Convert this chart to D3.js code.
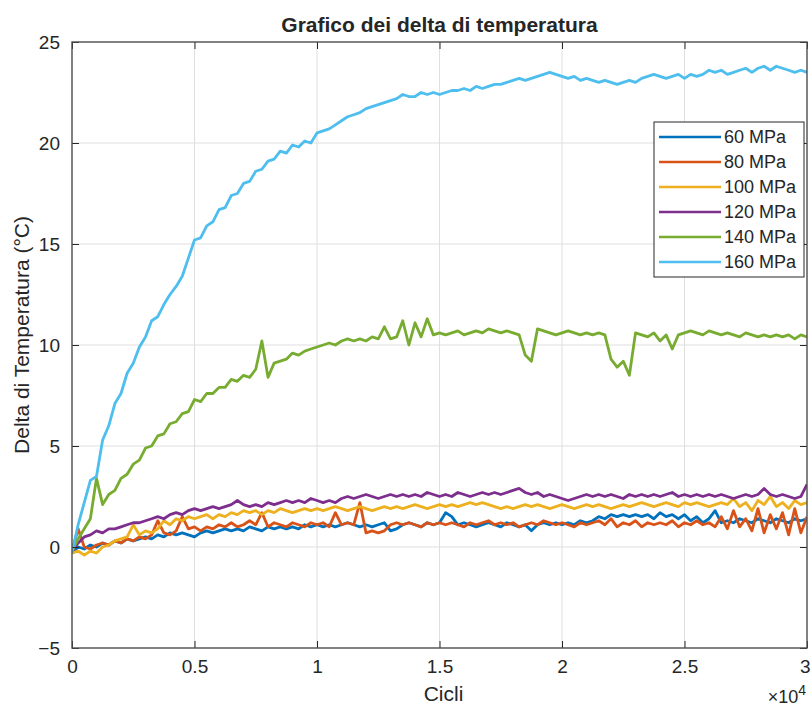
<!DOCTYPE html>
<html>
<head>
<meta charset="utf-8">
<script src="https://cdn.jsdelivr.net/npm/d3@7"></script>
<style>
  body { margin: 0; background: #fff; }
  text { font-family: "Liberation Sans", Arial, sans-serif; fill: #262626; }
</style>
</head>
<body>
<div id="chart"></div>
<script>
var margin = {top: 42, right: 4, bottom: 60, left: 72},
    W = 811, H = 708,
    width = W - margin.left - margin.right,
    height = H - margin.top - margin.bottom;

/* cycle counts, one reading every 250 cycles */
var cicli = d3.range(0, 30001, 250);

var serie = ["60 MPa", "80 MPa", "100 MPa", "120 MPa", "140 MPa", "160 MPa"];
var colori = ["#0072BD", "#D95319", "#EDB120", "#7E2F8E", "#77AC30", "#4DBEEE"];

var xTicks = [0, 5000, 10000, 15000, 20000, 25000, 30000];
var yTicks = [-5, 0, 5, 10, 15, 20, 25];

// delta T (°C) for each load level
var dt60 = [-0.3,0.0,-0.1,0.1,0.0,0.2,0.1,0.3,0.2,0.4,0.3,0.4,0.5,0.4,0.6,0.5,0.7,0.6,0.7,0.6,
  0.5,0.7,0.8,0.7,0.8,0.9,0.8,0.9,0.8,1.0,0.9,0.8,1.0,0.9,1.0,0.9,1.0,0.9,1.1,1.0,
  1.1,1.0,1.1,1.0,1.1,1.2,1.1,1.0,1.1,1.0,1.1,1.2,0.8,0.9,1.1,1.2,1.1,1.0,1.2,1.1,
  1.2,1.7,1.5,1.1,1.2,1.1,1.0,1.1,1.2,1.1,1.0,1.2,1.1,1.0,1.1,0.8,1.1,1.2,1.1,1.2,
  1.1,1.2,1.1,1.3,1.2,1.3,1.5,1.4,1.6,1.5,1.6,1.5,1.6,1.5,1.6,1.4,1.7,1.5,1.6,1.4,
  1.6,1.3,1.5,1.2,1.4,1.8,1.2,1.3,1.2,1.4,1.3,1.2,1.4,1.3,1.2,1.4,1.3,1.2,1.4,1.3,1.4];

var dt80 = [-0.2,0.9,0.0,-0.1,0.1,0.2,0.1,0.3,0.2,0.4,0.3,0.5,0.4,0.6,1.3,0.7,0.6,0.8,1.5,0.9,
  1.0,0.8,1.0,0.9,1.1,1.0,1.2,1.0,1.1,1.3,1.1,1.7,1.0,1.2,1.1,1.0,1.2,1.1,1.0,1.2,
  1.1,1.2,1.0,1.7,1.1,1.2,1.1,2.2,0.7,0.8,0.7,0.8,1.1,1.2,1.1,1.2,1.1,1.0,1.2,1.1,
  1.2,1.1,1.2,1.1,1.0,1.2,1.1,1.2,1.3,1.1,1.2,1.1,1.2,1.0,1.1,1.2,1.1,1.3,1.2,1.1,
  1.2,1.1,1.0,1.2,1.1,1.2,1.3,1.1,1.4,1.0,1.2,1.1,1.3,1.0,1.2,1.1,1.2,1.1,1.3,1.0,
  1.2,1.1,1.3,1.1,1.2,1.0,1.5,0.9,1.8,1.0,1.4,0.8,1.9,0.7,1.6,0.9,1.7,0.6,1.9,0.7,1.5];

var dt100 = [-0.3,-0.2,-0.4,-0.2,-0.3,0.0,0.1,0.3,0.4,0.5,1.1,0.6,0.8,0.7,0.9,1.3,1.1,1.4,1.3,1.5,
  1.4,1.5,1.6,1.4,1.6,1.5,1.7,1.6,1.8,1.7,1.8,1.6,1.8,1.7,1.9,1.8,1.7,1.8,1.9,1.8,
  1.9,1.8,1.9,2.0,1.9,1.8,1.9,2.0,1.9,1.8,1.9,2.0,1.9,2.0,1.9,2.0,2.1,2.0,1.9,2.0,
  2.1,2.0,2.1,2.0,2.1,2.2,2.1,2.2,2.1,2.0,1.9,2.0,1.9,2.0,2.1,2.0,2.1,2.0,1.9,2.0,
  2.1,2.0,1.9,2.0,2.1,2.0,2.1,2.0,1.9,2.0,2.1,2.0,2.1,2.2,2.1,2.0,2.1,2.2,2.1,2.0,
  2.2,2.1,2.2,2.1,2.0,2.1,2.2,2.1,2.4,2.0,2.2,1.8,2.3,2.1,2.5,2.0,2.2,1.9,2.3,2.1,2.2];

var dt120 = [-0.2,0.2,0.5,0.6,0.8,0.7,0.9,0.9,1.0,1.1,1.2,1.2,1.3,1.4,1.5,1.4,1.6,1.7,1.6,1.8,
  1.9,1.8,1.9,2.0,1.9,2.0,2.1,2.3,2.1,2.0,2.1,2.0,2.2,2.1,2.2,2.3,2.2,2.3,2.2,2.4,
  2.3,2.2,2.3,2.2,2.4,2.5,2.4,2.5,2.6,2.5,2.4,2.5,2.6,2.5,2.6,2.5,2.6,2.5,2.7,2.6,
  2.5,2.6,2.5,2.7,2.6,2.5,2.6,2.7,2.6,2.7,2.6,2.7,2.8,2.9,2.7,2.6,2.7,2.5,2.6,2.5,
  2.4,2.3,2.4,2.5,2.6,2.5,2.6,2.5,2.6,2.5,2.4,2.6,2.5,2.6,2.5,2.6,2.5,2.6,2.7,2.5,
  2.6,2.5,2.6,2.5,2.6,2.5,2.6,2.5,2.4,2.5,2.6,2.5,2.6,2.9,2.6,2.5,2.6,2.5,2.4,2.5,3.1];

var dt140 = [-0.2,0.4,0.9,1.4,3.4,2.1,2.6,2.8,3.4,3.6,4.1,4.3,4.9,5.0,5.5,5.6,6.1,6.2,6.6,6.7,
  7.3,7.2,7.6,7.6,7.9,7.9,8.3,8.2,8.5,8.4,8.8,10.2,8.4,9.1,9.2,9.3,9.6,9.5,9.7,9.8,
  9.9,10.0,10.1,10.0,10.2,10.3,10.2,10.3,10.2,10.4,10.3,10.9,10.3,10.4,11.2,10.0,11.1,10.4,11.3,10.5,
  10.6,10.5,10.6,10.7,10.5,10.6,10.7,10.6,10.8,10.7,10.6,10.7,10.6,10.5,9.5,9.2,10.8,10.7,10.6,10.5,
  10.6,10.7,10.6,10.5,10.6,10.5,10.6,10.5,9.3,8.9,9.2,8.5,10.6,10.5,10.4,10.6,10.2,10.5,9.8,10.5,
  10.6,10.7,10.6,10.5,10.7,10.6,10.5,10.6,10.5,10.4,10.6,10.5,10.4,10.5,10.4,10.5,10.4,10.5,10.3,10.5,10.4];

var dt160 = [-0.3,1.1,2.2,3.3,3.5,5.3,6.0,7.1,7.6,8.6,9.1,9.9,10.4,11.2,11.4,12.0,12.5,12.9,13.4,14.3,
  15.2,15.3,15.9,16.1,16.7,16.8,17.4,17.5,18.0,18.1,18.6,18.7,19.1,19.2,19.6,19.5,19.9,19.8,20.1,20.0,
  20.5,20.6,20.7,20.9,21.1,21.3,21.4,21.5,21.7,21.8,21.9,22.0,22.1,22.2,22.4,22.3,22.3,22.5,22.4,22.5,
  22.4,22.5,22.6,22.6,22.7,22.6,22.8,22.7,22.8,22.9,22.9,23.0,23.1,23.2,23.1,23.2,23.3,23.4,23.5,23.4,
  23.3,23.2,23.3,23.1,23.2,23.1,23.0,23.1,23.0,22.9,23.0,23.1,23.0,23.2,23.3,23.4,23.3,23.2,23.3,23.4,
  23.2,23.4,23.3,23.4,23.6,23.5,23.6,23.4,23.5,23.6,23.7,23.5,23.7,23.8,23.6,23.8,23.7,23.6,23.5,23.6,23.5];

var valori = [dt60, dt80, dt100, dt120, dt140, dt160];

var svg = d3.select("#chart").append("svg").attr("width", W).attr("height", H);

var x = d3.scaleLinear().domain([0, 30000]).range([0, width]);
var y = d3.scaleLinear().domain([-5, 25]).range([height, 0]);

var g = svg.append("g").attr("transform", "translate(" + margin.left + "," + margin.top + ")");

/* grid */
g.append("g").selectAll("line").data(xTicks.slice(1, -1)).enter().append("line")
    .attr("x1", x).attr("x2", x).attr("y1", 0).attr("y2", height)
    .attr("stroke", "#dfdfdf").attr("stroke-width", 1);
g.append("g").selectAll("line").data(yTicks.slice(1, -1)).enter().append("line")
    .attr("y1", y).attr("y2", y).attr("x1", 0).attr("x2", width)
    .attr("stroke", "#dfdfdf").attr("stroke-width", 1);

/* data lines */
g.append("clipPath").attr("id", "clip").append("rect")
    .attr("width", width).attr("height", height);

var line = d3.line()
    .x(function(d, i) { return x(cicli[i]); })
    .y(function(d) { return y(d); });

g.append("g").attr("clip-path", "url(#clip)")
  .selectAll("path").data(valori).enter().append("path")
    .attr("d", line)
    .attr("fill", "none")
    .attr("stroke", function(d, i) { return colori[i]; })
    .attr("stroke-width", 2.8)
    .attr("stroke-linejoin", "round");

/* axes, ticks pointing inward like matlab */
var tk = 7;
var xAxis = d3.axisBottom(x).tickValues(xTicks).tickSizeInner(-tk).tickSizeOuter(0)
    .tickPadding(12).tickFormat(function(d) { return d / 1e4; });
var yAxis = d3.axisLeft(y).tickValues(yTicks).tickSizeInner(-tk).tickSizeOuter(0)
    .tickPadding(12);

var gx = g.append("g").attr("transform", "translate(0," + height + ")").call(xAxis);
var gy = g.append("g").call(yAxis);
g.append("g").call(d3.axisTop(x).tickValues(xTicks).tickSizeInner(-tk).tickSizeOuter(0).tickFormat(""));
g.append("g").attr("transform", "translate(" + width + ",0)")
  .call(d3.axisRight(y).tickValues(yTicks).tickSizeInner(-tk).tickSizeOuter(0).tickFormat(""));

g.selectAll(".domain").remove();
g.selectAll(".tick line").attr("stroke", "#262626");
g.selectAll(".tick text").style("font-size", "19px").attr("fill", "#262626");

// last x label sits at the right edge of the window
gx.selectAll(".tick text").filter(function(d) { return d === 30000; })
    .attr("text-anchor", "end").attr("x", 3);

g.append("rect").attr("width", width).attr("height", height)
    .attr("fill", "none").attr("stroke", "#4d4d4d").attr("stroke-width", 1.4);

/* title and labels */
svg.append("text").attr("x", margin.left + width / 2).attr("y", 32)
    .attr("text-anchor", "middle").style("font-size", "21px").style("font-weight", "bold")
    .text("Grafico dei delta di temperatura");

svg.append("text").attr("x", margin.left + width / 2 + 4).attr("y", 701)
    .attr("text-anchor", "middle").style("font-size", "21px")
    .text("Cicli");

svg.append("text")
    .attr("transform", "translate(29," + 335 + ") rotate(-90)")
    .attr("text-anchor", "middle").style("font-size", "21px")
    .text("Delta di Temperatura (°C)");

var exp = svg.append("text").attr("x", 806).attr("y", 703).attr("text-anchor", "end")
    .style("font-size", "18px");
exp.append("tspan").text("\u00d710");
exp.append("tspan").attr("dy", -8).style("font-size", "14px").text("4");

/* legend */
var lg = svg.append("g").attr("transform", "translate(654,122)");
lg.append("rect").attr("width", 150).attr("height", 155)
    .attr("fill", "#fff").attr("stroke", "#262626").attr("stroke-width", 1);

var item = lg.selectAll(".item").data(serie).enter().append("g")
    .attr("class", "item")
    .attr("transform", function(d, i) { return "translate(0," + (15 + i * 25) + ")"; });
item.append("line").attr("x1", 5).attr("x2", 67)
    .attr("stroke", function(d, i) { return colori[i]; }).attr("stroke-width", 2.6);
item.append("text").attr("x", 70).attr("dy", "0.35em").style("font-size", "18px")
    .text(function(d) { return d; });
</script>
</body>
</html>
